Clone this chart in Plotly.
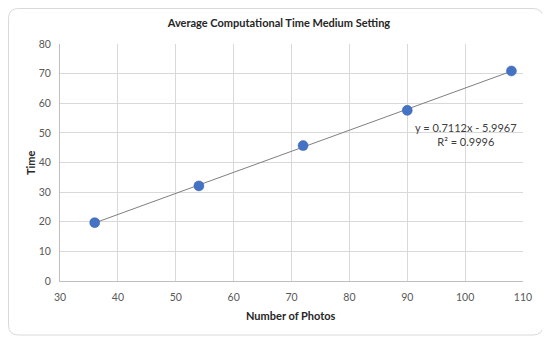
import plotly.graph_objects as go

photos = [36, 54, 72, 90, 108]
times = [19.7, 32.1, 45.7, 57.6, 70.9]
slope = 0.7112
intercept = -5.9967
r2 = 0.9996
x_ticks = [30, 40, 50, 60, 70, 80, 90, 100, 110]
y_ticks = [0, 10, 20, 30, 40, 50, 60, 70, 80]

font = "Lato, Carlito, Open Sans, sans-serif"

trend_x = [min(photos), max(photos)]
trend_y = [slope * v + intercept for v in trend_x]

fig = go.Figure()
fig.add_trace(go.Scatter(x=trend_x, y=trend_y, mode="lines",
                         line=dict(color="#7f7f7f", width=1), hoverinfo="skip"))
fig.add_trace(go.Scatter(x=photos, y=times, mode="markers",
                         marker=dict(color="#4472C4", size=10,
                                     line=dict(color="#3a62ad", width=0.5))))

# page body adds an 8px offset; figure coords = window coords - 8
OFF = 8
W, H = 542, 333
L, T = 60 - OFF, 44 - OFF
pw, ph = 463, 237
R, B = W - L - pw, H - T - ph

def px(x):
    return (x - OFF - L) / pw

def py(y):
    return (T + ph - (y - OFF)) / ph

x0, x1, y0, y1 = px(8.5), px(543), py(8.5), py(335)
rx, ry = 10 / pw, 10 / ph
path = (f"M {x0+rx},{y0} L {x1-rx},{y0} Q {x1},{y0} {x1},{y0-ry} "
        f"L {x1},{y1+ry} Q {x1},{y1} {x1-rx},{y1} L {x0+rx},{y1} "
        f"Q {x0},{y1} {x0},{y1+ry} L {x0},{y0-ry} Q {x0},{y0} {x0+rx},{y0} Z")

axis_common = dict(showgrid=True, gridcolor="#d9d9d9", gridwidth=1,
                   zeroline=False, showline=True, linecolor="#bfbfbf",
                   linewidth=1, ticks="outside", ticklen=6,
                   tickcolor="rgba(0,0,0,0)", automargin=False,
                   tickfont=dict(size=10.5, color="#595959"))

fig.update_layout(
    width=W, height=H,
    margin=dict(l=L, r=R, t=T, b=B, autoexpand=False),
    paper_bgcolor="white", plot_bgcolor="white",
    showlegend=False,
    font=dict(family=font, color="#595959", size=10),
    title=dict(text="<b>Average Computational Time Medium Setting</b>",
               x=0.5, xanchor="center", y=1 - (23 - OFF) / H, yanchor="middle",
               font=dict(family=font, size=11, color="#262626")),
    xaxis=dict(range=[30, 110], tickvals=x_ticks, **axis_common),
    yaxis=dict(range=[0, 80], tickvals=y_ticks, **axis_common),
    shapes=[dict(type="path", xref="paper", yref="paper", path=path,
                 line=dict(color="#d9d9d9", width=1), layer="below")],
    annotations=[
        dict(x=px(466), y=py(134), xref="paper", yref="paper",
             xanchor="center", yanchor="middle",
             text=f"y = {slope}x - {abs(intercept)}<br>R² = {r2}",
             showarrow=False, align="center",
             font=dict(family=font, size=11, color="#404040")),
        dict(x=px(291), y=py(315), xref="paper", yref="paper",
             xanchor="center", yanchor="middle",
             text="<b>Number of Photos</b>", showarrow=False,
             font=dict(family=font, size=11, color="#262626")),
        dict(x=px(30), y=py(162), xref="paper", yref="paper",
             xanchor="center", yanchor="middle",
             text="<b>Time</b>", showarrow=False, textangle=-90,
             font=dict(family=font, size=11, color="#262626")),
    ],
)

fig.write_html("out.html")
